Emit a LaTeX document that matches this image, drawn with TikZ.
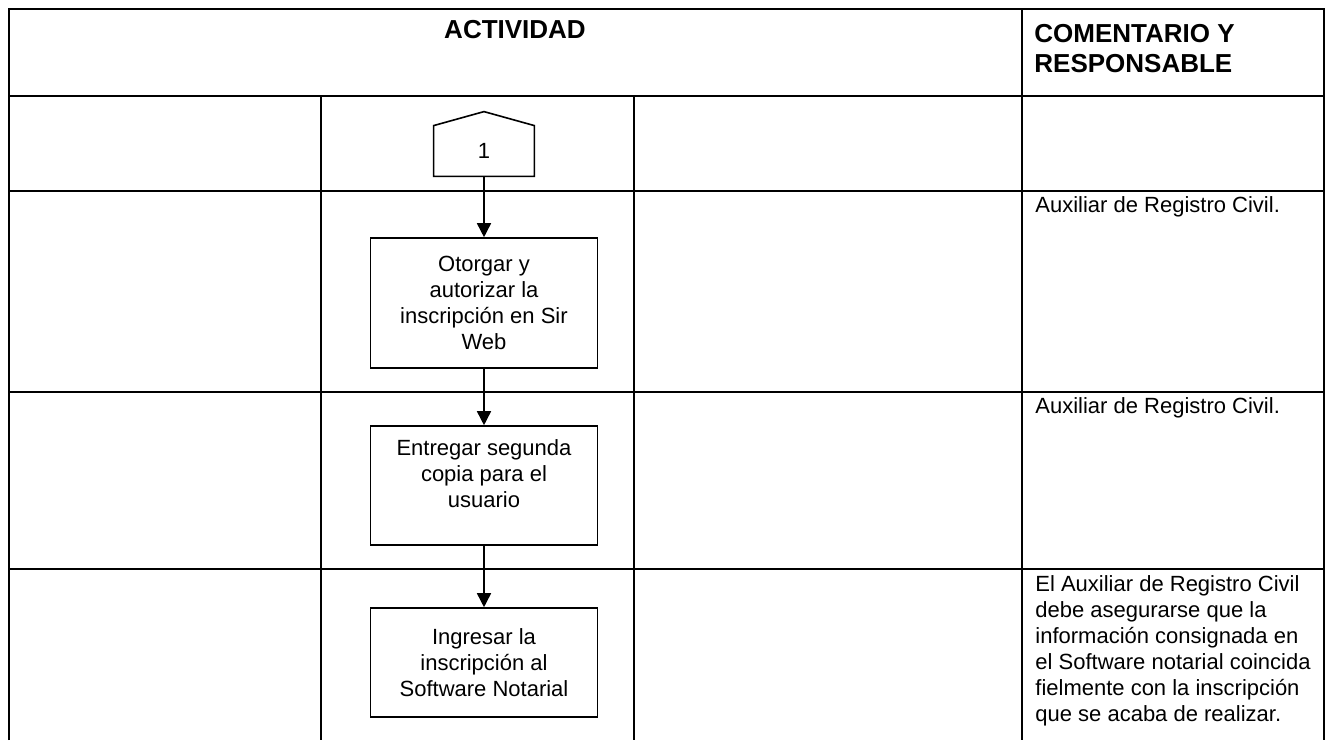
\documentclass[tikz,border=0pt]{standalone}
\usepackage{fontspec}
\setmainfont{Liberation Sans}
\usetikzlibrary{arrows.meta}
\tikzset{
  grid/.style={line width=0.9pt},
  stepbox/.style={draw, line width=0.8pt, minimum width=113.5pt, align=center, inner sep=2pt, font=\fontsize{11}{13}\selectfont},
  note/.style={anchor=north west, inner sep=0pt, align=left, font=\fontsize{11}{13}\selectfont},
  head/.style={inner sep=0pt, font=\fontsize{13}{15}\selectfont\bfseries},
  flow/.style={line width=0.8pt, -{Triangle[width=7pt,length=7pt]}}
}
\begin{document}
\begin{tikzpicture}[x=0.5pt,y=-0.5pt]
\useasboundingbox (0,0) rectangle (1334,740);
% table frame
\draw[grid] (9,740) -- (9,9) -- (1324,9) -- (1324,740);
\draw[grid] (1022,9) -- (1022,740);
\draw[grid] (9,96) -- (1324,96);
% lanes
\draw[grid] (321,96) -- (321,740);
\draw[grid] (634,96) -- (634,740);
% rows
\foreach \y in {191,392,569}
  \draw[grid] (9,\y) -- (1324,\y);
% header
\node[head] (act) at (515,30) {ACTIVIDAD};
\node[head, anchor=north west, align=left] (com) at (1034,24) {COMENTARIO Y\\RESPONSABLE};
% connector 1
\node[minimum width=50pt, minimum height=25pt, inner sep=0pt, font=\fontsize{11}{13}\selectfont] (con1) at (484,151) {1};
\draw[line width=0.8pt] (con1.south west) -- (con1.north west) -- ([yshift=7pt]con1.north) -- (con1.north east) -- (con1.south east) -- cycle;
% activities
\node[stepbox, minimum height=65pt] (otorgar) at (484,303) {Otorgar y\\autorizar la\\inscripción en Sir\\Web};
\node[stepbox, minimum height=59.5pt] (entregar) at (484,485.5) {Entregar segunda\\copia para el\\usuario\\[-1pt]\mbox{}};
\node[stepbox, minimum height=54.5pt] (ingresar) at (484,662.5) {Ingresar la\\inscripción al\\Software Notarial};
% flow
\draw[flow] (con1.south) -- (otorgar.north);
\draw[flow] (otorgar.south) -- (entregar.north);
\draw[flow] (entregar.south) -- (ingresar.north);
% comments
\node[note] (resp2) at (1035,196) {Auxiliar de Registro Civil.};
\node[note] (resp3) at (1035,397) {Auxiliar de Registro Civil.};
\node[note] (resp4) at (1035,575) {El Auxiliar de Registro Civil\\debe asegurarse que la\\información consignada en\\el Software notarial coincida\\fielmente con la inscripción\\que se acaba de realizar.};
\end{tikzpicture}
\end{document}
